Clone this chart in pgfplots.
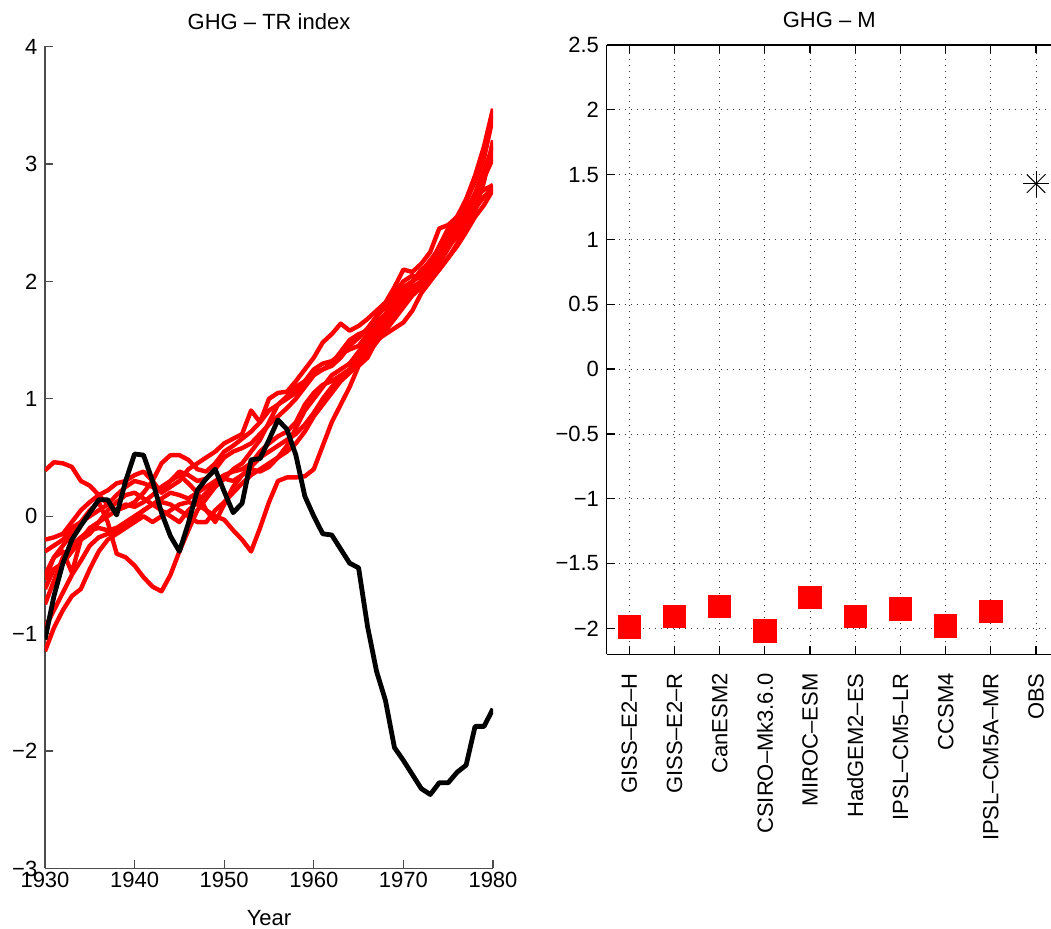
\documentclass[border=0pt]{standalone}
\usepackage{fontspec}
\setmainfont{Liberation Sans}
\usepackage{pgfplots}
\pgfplotsset{compat=1.18}
\usepackage{pgfplotstable}
\pgfplotstableread{
year b r1 r2 r3 r4 r5 r6 r7 r8 r9
1930 -1.05 0.39 -0.50 -1.15 -0.54 -0.20 -0.75 -0.30 -0.95 -0.62
1931 -0.68 0.46 -0.35 -0.95 -0.35 -0.18 -0.55 -0.25 -0.80 -0.45
1932 -0.40 0.45 -0.25 -0.80 -0.30 -0.15 -0.35 -0.20 -0.65 -0.40
1933 -0.20 0.42 -0.15 -0.68 -0.48 -0.05 -0.25 -0.10 -0.50 -0.30
1934 -0.08 0.30 -0.05 -0.62 -0.20 0.05 -0.18 -0.05 -0.38 -0.20
1935 0.03 0.26 0.05 -0.45 -0.10 0.12 -0.12 0.00 -0.25 -0.15
1936 0.14 0.18 0.12 -0.30 -0.05 0.18 -0.10 0.05 -0.18 -0.05
1937 0.14 0.10 -0.05 -0.20 0.00 0.22 -0.12 0.10 -0.15 0.05
1938 0.01 0.05 -0.32 -0.15 0.05 0.28 -0.10 0.18 -0.12 0.12
1939 0.30 0.08 -0.35 -0.10 0.10 0.30 -0.05 0.25 -0.08 0.18
1940 0.53 0.12 -0.42 -0.05 0.08 0.35 0.00 0.30 -0.02 0.20
1941 0.52 0.20 -0.52 0.00 0.12 0.38 0.05 0.28 0.05 0.15
1942 0.30 0.30 -0.60 -0.05 0.18 0.30 0.10 0.25 0.10 0.10
1943 0.03 0.45 -0.64 0.00 0.25 0.20 0.15 0.22 0.12 0.05
1944 -0.17 0.52 -0.50 0.05 0.30 0.25 0.20 0.30 0.10 0.00
1945 -0.30 0.52 -0.30 0.10 0.38 0.30 0.18 0.35 0.05 -0.05
1946 -0.06 0.48 -0.12 0.12 0.35 0.40 0.15 0.28 0.00 0.05
1947 0.22 0.40 0.05 0.10 0.30 0.45 0.20 0.20 -0.05 0.12
1948 0.32 0.38 0.15 0.05 0.32 0.50 0.25 0.05 -0.05 0.20
1949 0.40 0.45 0.25 0.00 0.40 0.55 0.30 -0.05 0.05 0.28
1950 0.21 0.55 0.32 -0.03 0.50 0.62 0.35 0.10 0.12 0.32
1951 0.03 0.60 0.40 -0.12 0.55 0.66 0.38 0.25 0.20 0.30
1952 0.11 0.66 0.45 -0.20 0.58 0.70 0.40 0.35 0.28 0.35
1953 0.48 0.72 0.55 -0.30 0.62 0.90 0.45 0.40 0.35 0.42
1954 0.49 0.80 0.65 -0.10 0.70 0.80 0.55 0.38 0.40 0.50
1955 0.65 0.90 0.80 0.12 0.78 1.00 0.62 0.42 0.45 0.55
1956 0.82 0.95 0.95 0.30 0.85 1.05 0.68 0.50 0.50 0.60
1957 0.74 1.02 1.00 0.33 0.92 1.06 0.72 0.60 0.55 0.65
1958 0.52 1.10 1.05 0.33 1.00 1.15 0.80 0.75 0.62 0.70
1959 0.17 1.15 1.15 0.34 1.10 1.25 0.95 0.90 0.72 0.78
1960 0.00 1.22 1.25 0.40 1.20 1.35 1.05 1.00 0.85 0.88
1961 -0.15 1.25 1.30 0.60 1.25 1.48 1.12 1.10 0.95 1.00
1962 -0.16 1.30 1.32 0.80 1.28 1.55 1.15 1.20 1.05 1.10
1963 -0.28 1.40 1.38 0.95 1.35 1.64 1.20 1.25 1.15 1.18
1964 -0.40 1.50 1.42 1.10 1.45 1.58 1.25 1.30 1.22 1.25
1965 -0.44 1.55 1.45 1.28 1.52 1.62 1.35 1.40 1.30 1.30
1966 -0.94 1.58 1.55 1.35 1.60 1.68 1.45 1.50 1.40 1.38
1967 -1.32 1.70 1.65 1.50 1.70 1.75 1.55 1.60 1.52 1.48
1968 -1.57 1.80 1.72 1.55 1.78 1.82 1.65 1.70 1.62 1.58
1969 -1.97 1.90 1.85 1.60 1.85 1.95 1.75 1.80 1.72 1.68
1970 -2.08 2.00 1.95 1.65 1.92 2.10 1.85 1.90 1.82 1.78
1971 -2.20 2.05 2.00 1.75 2.00 2.08 1.95 2.00 1.90 1.88
1972 -2.32 2.02 2.05 1.90 2.08 2.15 2.00 2.10 1.98 1.95
1973 -2.37 2.10 2.15 2.00 2.18 2.25 2.05 2.15 2.08 2.02
1974 -2.27 2.20 2.30 2.10 2.28 2.45 2.15 2.25 2.18 2.10
1975 -2.27 2.30 2.45 2.20 2.40 2.48 2.28 2.35 2.30 2.20
1976 -2.18 2.38 2.55 2.30 2.50 2.55 2.40 2.45 2.42 2.32
1977 -2.12 2.50 2.70 2.42 2.62 2.68 2.55 2.60 2.55 2.45
1978 -1.79 2.62 2.90 2.55 2.72 2.85 2.70 2.75 2.70 2.60
1979 -1.79 2.72 3.15 2.65 2.78 3.05 2.88 2.95 2.90 2.85
1980 -1.64 2.80 3.47 2.78 2.82 3.40 3.05 3.15 3.10 3.20
}\trdata
\pgfplotstableread{
x y
1 -1.99
2 -1.91
3 -1.83
4 -2.02
5 -1.76
6 -1.91
7 -1.85
8 -1.98
9 -1.87
}\mdata
\newcommand{\ff}{\fontsize{11}{13}\selectfont}
\begin{document}
\ff
\begin{tikzpicture}
\path[use as bounding box] (0,0) rectangle (525.5pt,464.5pt);
\begin{axis}[
  at={(22.5pt,30.25pt)}, anchor=south west, scale only axis,
  width=224pt, height=411pt,
  xmin=1930, xmax=1980, ymin=-3, ymax=4,
  axis x line*=bottom, axis y line*=left,
  axis line style={-, black!70, line width=0.6pt},
  tick align=inside, major tick length=4pt,
  tick style={black!70, line width=0.6pt},
  xtick={1930,1940,1950,1960,1970,1980},
  xticklabels={1930,1940,1950,1960,1970,1980},
  ytick={-3,-2,-1,0,1,2,3,4},
  yticklabels={−3,−2,−1,0,1,2,3,4},
  tick label style={font=\ff, black},
  xticklabel style={inner sep=1.5pt},
  title={GHG – TR index},
  title style={font=\ff, yshift=-1.4pt},
  xlabel={Year},
  xlabel style={font=\ff, at={(axis description cs:0.5,0)}, anchor=north, yshift=-17pt},
]
\foreach \c in {r1,r2,r3,r4,r5,r6,r7,r8,r9}{
  \addplot[red, line width=2.2pt, line join=round] table[x=year, y=\c] {\trdata};
}
\addplot[black, line width=2.4pt, line join=round] table[x=year, y=b] {\trdata};
\end{axis}
\begin{axis}[
  at={(303.35pt,137.35pt)}, anchor=south west, scale only axis,
  width=222.6pt, height=304.65pt,
  xmin=0.5, xmax=10.35, ymin=-2.2, ymax=2.5,
  axis x line*=box, axis y line*=left,
  axis line style={-, black, line width=0.6pt},
  tick align=inside, major tick length=4pt,
  tick style={black, line width=0.6pt},
  xtick={1,2,3,4,5,6,7,8,9,10},
  xticklabels={GISS–E2–H,GISS–E2–R,CanESM2,CSIRO–Mk3.6.0,MIROC–ESM,HadGEM2–ES,IPSL–CM5–LR,CCSM4,IPSL–CM5A–MR,OBS},
  xticklabel style={rotate=90, anchor=east},
  xticklabel shift=5.7pt,
  ytick={-2,-1.5,-1,-0.5,0,0.5,1,1.5,2,2.5},
  yticklabels={−2,−1.5,−1,−0.5,0,0.5,1,1.5,2,2.5},
  tick label style={font=\ff, black},
  grid=major,
  major grid style={dash pattern=on 0.6pt off 2.4pt, black!80, line width=0.4pt},
  title={GHG – M},
  title style={font=\ff, yshift=-1.4pt},
]
\addplot[only marks, mark=square*, mark size=5.6pt, mark options={fill=red, draw=red}] table[x=x, y=y] {\mdata};
\addplot[only marks, mark=+, mark size=6.5pt, mark options={black, line width=0.5pt}] coordinates {(10,1.43)};
\addplot[only marks, mark=x, mark size=6.5pt, mark options={black, line width=0.5pt}] coordinates {(10,1.43)};
\end{axis}
\end{tikzpicture}
\end{document}
